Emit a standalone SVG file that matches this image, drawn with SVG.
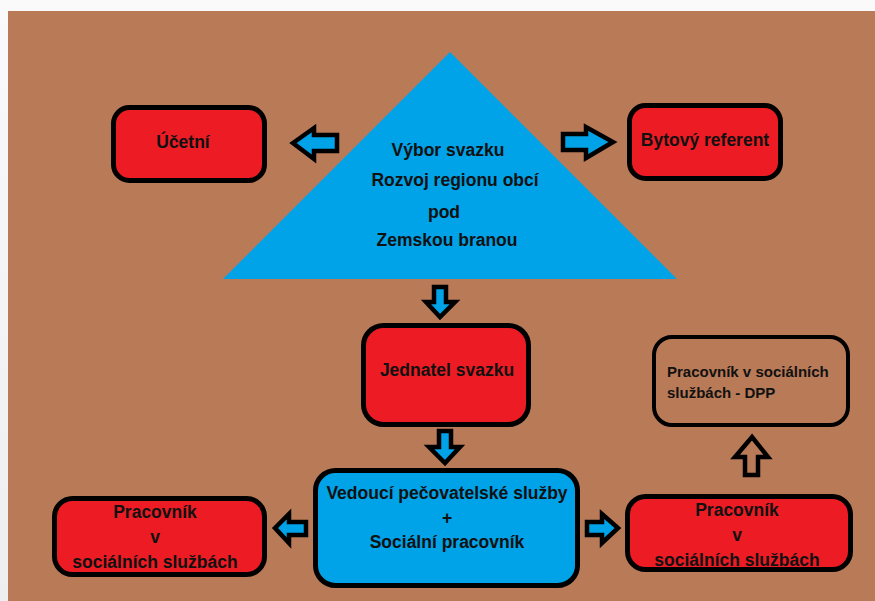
<svg xmlns="http://www.w3.org/2000/svg" width="875" height="601" viewBox="0 0 875 601">
<style>
.t{font-family:"Liberation Sans",Arial,sans-serif;font-weight:bold;font-size:17.5px;fill:#111;text-anchor:middle}
.s{font-size:15px;text-anchor:start}
.red{fill:#ed1c24;stroke:#000;stroke-width:5}
.blue{fill:#00a2e8;stroke:#000;stroke-width:5}
.hol{fill:#b97a57;stroke:#000;stroke-width:4}
.ar{fill:#00a2e8;stroke:#000;stroke-width:4.5;stroke-linejoin:miter}
.arh{fill:#b97a57;stroke:#000;stroke-width:4.5;stroke-linejoin:miter}
</style>
<defs>
<linearGradient id="bg" x1="0" y1="0" x2="0" y2="1">
<stop offset="0" stop-color="#fafafa"/><stop offset="1" stop-color="#eeeeee"/>
</linearGradient>
</defs>
<rect width="875" height="601" fill="url(#bg)"/>
<rect x="8" y="11" width="867" height="590" fill="#b97a57"/>

<g id="vybor">
<polygon points="450,52 223,279 677,279" fill="#00a2e8"/>
<text class="t" x="448" y="156">Výbor svazku</text>
<text class="t" x="455" y="186">Rozvoj regionu obcí</text>
<text class="t" x="444" y="218">pod</text>
<text class="t" x="447" y="246">Zemskou branou</text>
</g>

<g id="ucetni">
<rect class="red" x="113.5" y="107.5" width="151" height="73" rx="16"/>
<text class="t" x="183" y="148">Účetní</text>
</g>

<g id="bytovy">
<rect class="red" x="629.5" y="105.5" width="151" height="73" rx="16"/>
<text class="t" x="705" y="146">Bytový referent</text>
</g>

<g id="jednatel">
<rect class="red" x="363.5" y="325.5" width="165" height="99" rx="20"/>
<text class="t" x="447" y="376">Jednatel svazku</text>
</g>

<g id="dpp">
<rect class="hol" x="654" y="337" width="194" height="88" rx="18"/>
<text class="t s" x="667" y="377">Pracovník v sociálních</text>
<text class="t s" x="667" y="398">službách - DPP</text>
</g>

<g id="vedouci">
<rect class="blue" x="315.5" y="470.5" width="262" height="115" rx="20"/>
<text class="t" x="447" y="499">Vedoucí pečovatelské služby</text>
<text class="t" x="447" y="524">+</text>
<text class="t" x="447" y="548">Sociální pracovník</text>
</g>

<g id="pracovnik-l">
<rect class="red" x="54.5" y="498.5" width="210" height="76" rx="18"/>
<text class="t" x="155" y="518">Pracovník</text>
<text class="t" x="155" y="543">v</text>
<text class="t" x="155" y="568">sociálních službách</text>
</g>

<g id="pracovnik-r">
<rect class="red" x="627.5" y="496.5" width="223" height="73" rx="18"/>
<text class="t" x="737" y="516">Pracovník</text>
<text class="t" x="737" y="541">v</text>
<text class="t" x="737" y="566">sociálních službách</text>
</g>

<g id="connectors">
<polygon class="ar" points="293,143 314,128 314,135 337,135 337,151 314,151 314,159"/>
<polygon class="ar" points="563,134 586,134 586,127 613,142 586,158 586,150 563,150"/>
<polygon class="ar" points="434,287 446,287 446,302 455,302 440,317 426,302 434,302"/>
<polygon class="ar" points="439,431 451,431 451,447 460,447 445,463 429,447 439,447"/>
<polygon class="arh" points="752,437 768,457 758,457 758,475 745,475 745,457 735,457"/>
<polygon class="ar" points="275,528 289,514 289,522 306,522 306,535 289,535 289,543"/>
<polygon class="ar" points="587,522 602,522 602,514 618,528 602,543 602,535 587,535"/>
</g>
</svg>
